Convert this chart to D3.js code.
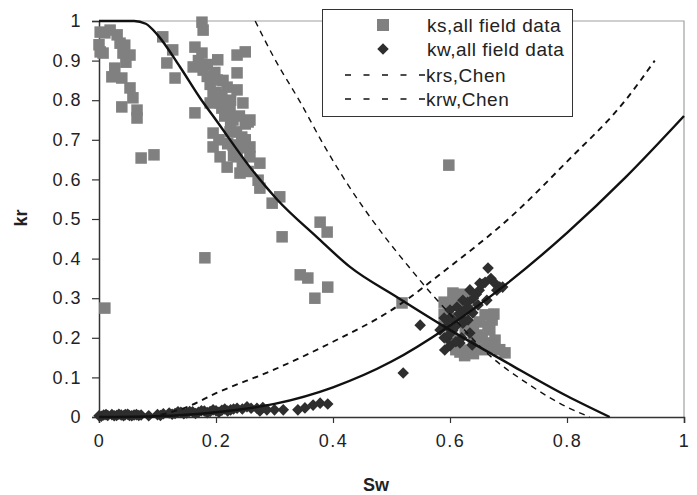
<!DOCTYPE html>
<html>
<head>
<meta charset="utf-8">
<script src="https://cdn.jsdelivr.net/npm/d3@7/dist/d3.min.js"></script>
<style>
  html, body { margin: 0; padding: 0; background: #fff; }
  svg { display: block; font-family: "Liberation Sans", Arial, sans-serif; }
</style>
</head>
<body>
<svg id="chart" width="697" height="495"></svg>
<script>
// Field data: relative permeability of steam (ks) and water (kw) vs water saturation
const ksSw = [0.002,0.010,0.019,0.031,0.0,0.002,0.007,0.036,0.044,0.041,0.053,0.046,0.027,0.022,0.039,0.053,0.058,0.039,0.065,0.065,0.072,0.094,0.010,
  0.176,0.178,0.109,0.126,0.116,0.130,0.164,0.176,0.161,0.178,0.203,0.236,0.250,0.236,0.202,0.219,0.164,0.207,0.224,0.246,0.236,0.258,0.195,0.224,0.244,
  0.190,0.195,0.210,0.229,0.195,0.229,0.258,0.207,0.236,0.258,0.219,0.241,0.275,0.272,0.275,0.309,0.296,0.378,0.390,0.313,0.181,0.344,0.357,0.369,0.391,0.598,0.518,0.255,
  0.185,0.190,0.200,0.210,0.215,0.225,0.235,0.245,0.250,0.230,0.245,0.255,0.220,0.205,0.170,0.185,0.198,0.212,0.225,0.240,0.250,
  0.597,0.605,0.603,0.597,0.609,0.617,0.629,0.643,0.663,0.668,0.672,0.660,0.634,0.621,0.694,0.648,0.614,0.600,0.677,0.626,
  0.590,0.590,0.590,0.600,0.610,0.625,0.640,0.655,0.670,0.685,0.640,0.655,0.665,0.675,0.650,0.610,0.620,0.630,0.640];
const ksKr = [0.972,0.970,0.977,0.965,0.940,0.922,0.919,0.944,0.939,0.919,0.914,0.896,0.881,0.859,0.856,0.831,0.806,0.783,0.775,0.755,0.654,0.662,0.275,
  0.997,0.977,0.960,0.927,0.894,0.856,0.934,0.919,0.884,0.876,0.902,0.914,0.922,0.869,0.851,0.833,0.768,0.793,0.775,0.793,0.826,0.750,0.717,0.720,0.707,
  0.793,0.813,0.813,0.750,0.682,0.687,0.682,0.657,0.657,0.657,0.631,0.616,0.641,0.598,0.578,0.556,0.540,0.492,0.467,0.455,0.402,0.359,0.351,0.300,0.328,0.636,0.288,0.745,
  0.860,0.840,0.820,0.780,0.760,0.740,0.720,0.680,0.700,0.660,0.640,0.620,0.690,0.700,0.900,0.890,0.870,0.850,0.800,0.760,0.740,
  0.270,0.313,0.220,0.245,0.194,0.164,0.169,0.182,0.187,0.220,0.245,0.258,0.300,0.283,0.162,0.207,0.250,0.283,0.194,0.220,
  0.290,0.260,0.230,0.200,0.170,0.155,0.160,0.170,0.175,0.170,0.190,0.200,0.230,0.260,0.240,0.300,0.310,0.270,0.230];

const kwSw = [0.0,0.008,0.015,0.022,0.030,0.038,0.045,0.052,0.060,0.068,
  0.004,0.012,0.026,0.034,0.042,0.049,0.056,0.064,0.072,
  0.085,0.100,0.110,0.120,0.130,0.140,0.150,0.160,0.170,0.180,0.190,0.200,
  0.105,0.125,0.135,0.145,0.155,0.165,0.175,0.185,0.195,0.205,0.215,0.225,0.230,0.245,0.260,0.275,0.280,
  0.210,0.220,0.236,0.253,0.270,0.287,0.300,0.315,0.340,0.352,0.366,0.378,0.391,
  0.665,0.651,0.685,0.634,0.663,0.622,0.612,0.639,0.622,0.605,0.634,0.595,0.583,0.591,0.617,0.690,0.638,0.631,0.648,0.600,0.549,0.520,
  0.590,0.595,0.600,0.605,0.610,0.615,0.620,0.625,0.630,0.635,0.640,0.645,0.650,0.655,0.660,0.670,0.675,0.680,0.600,0.610,0.620,0.600,0.590];
const kwKr = [0.003,0.005,0.004,0.006,0.004,0.005,0.006,0.004,0.005,0.004,
  0.002,0.006,0.003,0.007,0.003,0.007,0.003,0.006,0.005,
  0.003,0.006,0.008,0.010,0.009,0.012,0.010,0.013,0.012,0.015,0.014,0.016,
  0.004,0.007,0.013,0.008,0.014,0.009,0.016,0.011,0.018,0.012,0.020,0.018,0.020,0.020,0.022,0.015,0.024,
  0.017,0.015,0.022,0.026,0.022,0.018,0.018,0.018,0.018,0.023,0.030,0.035,0.033,
  0.376,0.338,0.328,0.321,0.295,0.295,0.278,0.263,0.237,0.220,0.212,0.199,0.220,0.169,0.187,0.328,0.182,0.245,0.283,0.250,0.232,0.111,
  0.200,0.230,0.210,0.245,0.230,0.260,0.250,0.270,0.290,0.270,0.300,0.310,0.320,0.335,0.340,0.350,0.340,0.320,0.180,0.190,0.200,0.270,0.250];

// Fitted curves (solid) and Chen model curves (dashed)
const krsFitSw = [0, 0.06, 0.08, 0.10, 0.138, 0.173, 0.20, 0.258, 0.304, 0.372, 0.429, 0.509, 0.594, 0.70, 0.80, 0.873];
const krsFitKr = [1, 1, 0.993, 0.965, 0.885, 0.805, 0.75, 0.631, 0.55, 0.455, 0.379, 0.303, 0.225, 0.135, 0.053, 0];
const krwFitSw = [0, 0.1, 0.2, 0.3, 0.4, 0.5, 0.594, 0.7, 0.8, 0.9, 1.0];
const krwFitKr = [0, 0.002, 0.012, 0.033, 0.075, 0.14, 0.225, 0.34, 0.465, 0.605, 0.76];
const krsChenSw = [0.267, 0.30, 0.344, 0.383, 0.424, 0.486, 0.532, 0.566, 0.60, 0.668, 0.732, 0.80, 0.839];
const krsChenKr = [1.0, 0.905, 0.795, 0.69, 0.59, 0.46, 0.375, 0.315, 0.26, 0.155, 0.085, 0.025, 0];
const krwChenSw = [0.087, 0.15, 0.2, 0.3, 0.4, 0.5, 0.6, 0.7, 0.8, 0.9, 0.95];
const krwChenKr = [0, 0.025, 0.06, 0.12, 0.19, 0.27, 0.38, 0.5, 0.645, 0.8, 0.9];

const xTicks = [0, 0.2, 0.4, 0.6, 0.8, 1];
const yTicks = [0, 0.1, 0.2, 0.3, 0.4, 0.5, 0.6, 0.7, 0.8, 0.9, 1];
const legendLabels = ["ks,all field data", "kw,all field data", "krs,Chen", "krw,Chen"];

const svg = d3.select("#chart");
const mLeft = 99, mRight = 684, mTop = 21, mBottom = 417;
const x = d3.scaleLinear().domain([0, 1]).range([mLeft, mRight]);
const y = d3.scaleLinear().domain([0, 1]).range([mBottom, mTop]);

const fmt = d => d === 0 ? "0" : d === 1 ? "1" : d3.format(".1f")(d);

// plot frame: gray top and right edges
svg.append("path")
  .attr("d", `M${mLeft},${mTop}H${mRight}V${mBottom}`)
  .attr("fill", "none").attr("stroke", "#a0a0a0").attr("stroke-width", 1.2);

// axes
const xAxis = svg.append("g").attr("transform", `translate(0,${mBottom})`)
  .call(d3.axisBottom(x).tickValues(xTicks).tickFormat(fmt).tickSize(6).tickPadding(11));
const yAxis = svg.append("g").attr("transform", `translate(${mLeft},0)`)
  .call(d3.axisLeft(y).tickValues(yTicks).tickFormat(fmt).tickSize(7).tickPadding(10));
[xAxis, yAxis].forEach(g => {
  g.select(".domain").attr("stroke", "#333").attr("stroke-width", 1.5);
  g.selectAll(".tick line").attr("stroke", "#333").attr("stroke-width", 1.2);
  g.selectAll(".tick text").attr("fill", "#222").style("font-size", "18px")
    .style("letter-spacing", "1.5px")
    .style("font-family", "'Liberation Sans', Arial, sans-serif");
});

// axis titles
svg.append("text").attr("x", 376).attr("y", 491).attr("text-anchor", "middle")
  .style("font-size", "18px").style("font-weight", "bold").attr("fill", "#222").text("Sw");
svg.append("text").attr("transform", "translate(27,218) rotate(-90)").attr("text-anchor", "middle")
  .style("font-size", "18px").style("font-weight", "bold").attr("fill", "#222").text("kr");

svg.append("clipPath").attr("id", "plotclip")
  .append("rect").attr("x", mLeft - 8).attr("y", mTop - 6).attr("width", mRight - mLeft + 16).attr("height", mBottom - mTop + 12);

const plot = svg.append("g");

// ks squares
const sq = 11.5;
plot.selectAll("rect.ks").data(d3.range(ksSw.length)).join("rect")
  .attr("class", "ks")
  .attr("x", i => x(ksSw[i]) - sq / 2).attr("y", i => y(ksKr[i]) - sq / 2)
  .attr("width", sq).attr("height", sq).attr("fill", "#808080");

// kw diamonds
const diamond = d3.symbol().type(d3.symbolDiamond2).size(85);
plot.selectAll("path.kw").data(d3.range(kwSw.length)).join("path")
  .attr("class", "kw")
  .attr("transform", i => `translate(${x(kwSw[i])},${y(kwKr[i])})`)
  .attr("d", diamond).attr("fill", "#2e2e2e");

// curves
const line = d3.line().x(d => x(d[0])).y(d => y(d[1])).curve(d3.curveMonotoneX);
const zipPts = (a, b) => a.map((v, i) => [v, b[i]]);

const curves = plot.append("g").attr("clip-path", "url(#plotclip)");
curves.append("path").attr("d", line(zipPts(krsChenSw, krsChenKr)))
  .attr("fill", "none").attr("stroke", "#111").attr("stroke-width", 1.4).attr("stroke-dasharray", "6,5");
curves.append("path").attr("d", line(zipPts(krwChenSw, krwChenKr)))
  .attr("fill", "none").attr("stroke", "#111").attr("stroke-width", 1.9).attr("stroke-dasharray", "6,5");
curves.append("path").attr("d", line(zipPts(krsFitSw, krsFitKr)))
  .attr("fill", "none").attr("stroke", "#111").attr("stroke-width", 2.4);
curves.append("path").attr("d", line(zipPts(krwFitSw, krwFitKr)))
  .attr("fill", "none").attr("stroke", "#111").attr("stroke-width", 2.4);

// legend
const lg = svg.append("g");
lg.append("rect").attr("x", 322.5).attr("y", 9.5).attr("width", 250).attr("height", 107)
  .attr("fill", "#fff").attr("stroke", "#333").attr("stroke-width", 1);
const rowY = [25, 49, 75, 99];
lg.append("rect").attr("x", 377).attr("y", rowY[0] - 6).attr("width", 12).attr("height", 12).attr("fill", "#808080");
lg.append("path").attr("transform", `translate(383,${rowY[1]})`).attr("d", diamond).attr("fill", "#2e2e2e");
[2, 3].forEach(k => {
  lg.append("line").attr("x1", 345).attr("x2", 425).attr("y1", rowY[k]).attr("y2", rowY[k])
    .attr("stroke", "#111").attr("stroke-width", 1.6).attr("stroke-dasharray", "6,12.5");
});
legendLabels.forEach((t, k) => {
  lg.append("text").attr("x", k < 2 ? 427 : 426).attr("y", rowY[k] + 7)
    .style("font-size", "19px").style("letter-spacing", "0.5px").attr("fill", "#222").text(t);
});
</script>
</body>
</html>
